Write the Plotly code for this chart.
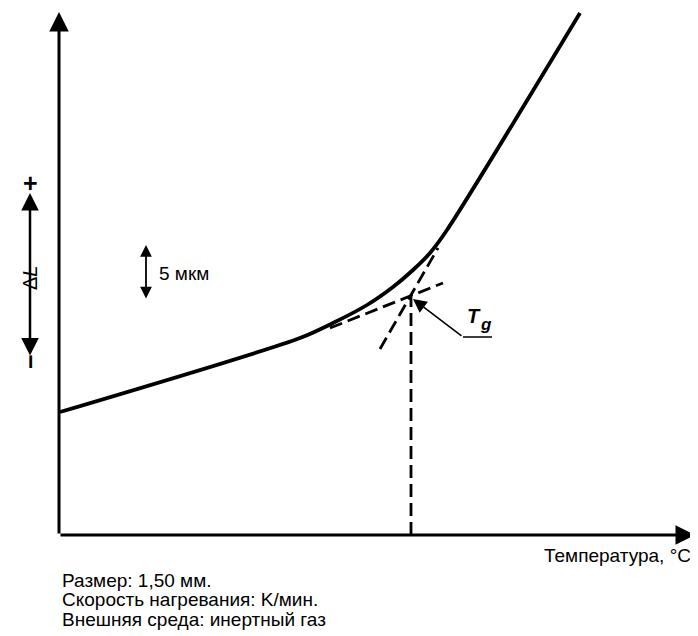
import plotly.graph_objects as go

# Dilatometric curve (arbitrary units: temperature vs. ΔL)
temp = [1, 241, 274, 308, 334, 354, 371, 388, 521]
dL = [123, 197, 212, 230, 248, 265, 282, 305, 522]

# Tangent construction lines
tan_low_x = [271, 384]
tan_low_y = [207, 252]
tan_steep_x = [321, 379]
tan_steep_y = [186, 287]
tg_x = [352, 352]
tg_y = [0, 238]

footnotes = ["Размер: 1,50 мм.", "Скорость нагревания: K/мин.", "Внешняя среда: инертный газ"]
x_label = "Температура, °C"

FONT = "Liberation Sans, Arial, sans-serif"

fig = go.Figure()
fig.add_trace(go.Scatter(x=temp, y=dL, mode="lines",
                         line=dict(color="black", width=3.8, shape="spline", smoothing=0.8),
                         showlegend=False, hoverinfo="skip"))
for xs, ys in [(tan_low_x, tan_low_y), (tan_steep_x, tan_steep_y), (tg_x, tg_y)]:
    fig.add_trace(go.Scatter(x=xs, y=ys, mode="lines",
                             line=dict(color="black", width=2.8, dash="13px,6px"),
                             showlegend=False, hoverinfo="skip"))
# Leader line for Tg
fig.add_trace(go.Scatter(x=[404, 433], y=[198, 198], mode="lines",
                         line=dict(color="black", width=1.5),
                         showlegend=False, hoverinfo="skip"))

ann = []
def arrow(x, y, ax, ay, width=3, size=1.0, side="end"):
    ann.append(dict(x=x, y=y, ax=ax, ay=ay, xref="x", yref="y", axref="x", ayref="y",
                    text="", showarrow=True, arrowhead=2, arrowsize=size, arrowwidth=width,
                    arrowcolor="black", arrowside=side, standoff=0, startstandoff=0))

# axes
arrow(0, 523, 0, 0, width=3, size=1.3)
arrow(636, 0, 0, 0, width=3, size=1.3)
# ΔL scale arrow
arrow(-29, 342, -29, 178, width=2.5, size=1.4, side="end+start")
# 5 мкм arrow
arrow(87, 290, 87, 235, width=1.8, size=1.3, side="end+start")
# Tg pointer
arrow(354, 236, 404, 198, width=1.6, size=1.7)

def txt(x, y, s, size=19, xanchor="center", angle=0, yanchor="middle"):
    ann.append(dict(x=x, y=y, xref="x", yref="y", text=s, showarrow=False,
                    xanchor=xanchor, yanchor=yanchor, textangle=angle,
                    font=dict(family=FONT, size=size, color="black")))

txt(-29, 352, "<b>+</b>", size=25)
txt(-29, 173, "<b>−</b>", size=25, angle=-90)
txt(-29, 257, "Δ<i>L</i>", size=20, angle=-90)
txt(98, 262, "5 мкм", size=19, xanchor="left")
txt(415, 219, "<b><i>T</i></b>", size=20)
txt(427, 211, "<b><i>g</i></b>", size=17)
txt(634, -20, x_label, size=19, xanchor="right")
for i, line in enumerate(footnotes):
    txt(1, -45 - i * 19.5, line, size=19, xanchor="left")

# page body has an 8px margin; shift the ranges so the drawing lands where the reference has it
fig.update_layout(
    width=698, height=636,
    margin=dict(l=0, r=0, t=0, b=0),
    paper_bgcolor="white", plot_bgcolor="white",
    xaxis=dict(range=[-51, 647], visible=False, fixedrange=True),
    yaxis=dict(range=[-109, 527], visible=False, fixedrange=True),
    annotations=ann,
)
fig.write_html("out.html")
